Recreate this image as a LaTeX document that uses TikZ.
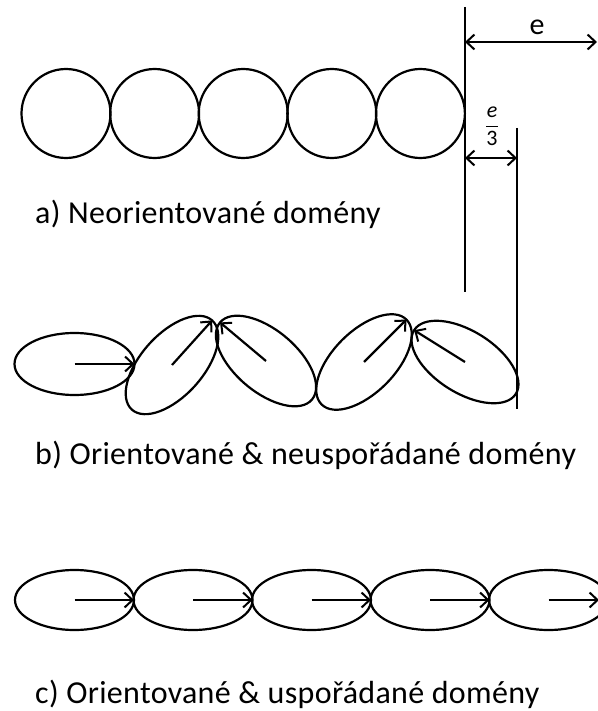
\documentclass[tikz,border=0pt]{standalone}
\usepackage{fontspec}
\setmainfont{Carlito}
\newfontfamily\capfont{Carlito}[LetterSpace=1]
\usetikzlibrary{positioning,shapes.geometric,arrows.meta}

\tikzset{
  grain/.style={draw, ellipse, line width=2.2pt, minimum width=120pt, minimum height=62pt, inner sep=0pt, outer sep=0pt},
  roundgrain/.style={draw, circle, line width=2.2pt, minimum size=89pt, inner sep=0pt, outer sep=0pt},
  spin/.style={-{Straight Barb[length=8pt,width=15pt,line width=2pt]}, line width=2.2pt},
  dimline/.style={{Straight Barb[length=8pt,width=15pt,line width=2pt]}-{Straight Barb[length=8pt,width=15pt,line width=2pt]}, line width=2.4pt},
  guide/.style={line width=2.6pt},
  captxt/.style={anchor=base west, inner sep=0pt, font=\capfont\fontsize{32}{36}\selectfont}
}

\begin{document}
\begin{tikzpicture}[x=1pt, y=-1pt]
\useasboundingbox (0,0) rectangle (597,711);

% a) round domains
\foreach \i in {1,...,5}
  \node[roundgrain] (a\i) at ({66+88.6*(\i-1)},113.5) {};

% guide lines and widths
\coordinate (g1top) at (465,7);
\coordinate (g1bot) at (465,292);
\coordinate (g2top) at (517,128);
\coordinate (g2bot) at (517,409);
\draw[guide] (g1top) -- (g1bot);
\draw[guide] (g2top) -- (g2bot);

\coordinate (eleft) at (465,42);
\coordinate (eright) at (597,42);
\draw[dimline] (eleft) -- (eright);
\node[font=\fontsize{30}{32}\selectfont] (elbl) at (537,27) {e};

\coordinate (tleft) at (465,158);
\coordinate (tright) at (517,158);
\draw[dimline] (tleft) -- (tright);
\node[font=\fontsize{22}{24}\selectfont, inner sep=0pt] (tlbl) at (492,126)
  {$\displaystyle\frac{\textit{e}}{\mbox{3}}$};

\node[captxt] (capa) at (35,223) {a) Neorientované domény};

% b) oriented, disordered
\node[grain] (b1) at (74.5,364) {};
\node[grain, rotate=48] (b2) at (172,365) {};
\node[grain, rotate=-40] (b3) at (266,361) {};
\node[grain, rotate=45] (b4) at (364,362) {};
\node[grain, rotate=-32] (b5) at (465,362) {};

\draw[spin] (b1.center) -- (b1.east);
\draw[spin] (b2.center) -- (b2.east);
\draw[spin] (b3.center) -- (b3.west);
\draw[spin] (b4.center) -- (b4.east);
\draw[spin] (b5.center) -- (b5.west);

\node[captxt] (capb) at (35,464) {b) Orientované \& neuspořádané domény};

% c) oriented, ordered
\foreach \i in {1,...,5}
  \node[grain, minimum width=119pt, minimum height=60pt] (c\i) at ({74.5+118.5*(\i-1)},600) {};
\foreach \i in {1,...,4}
  \draw[spin] (c\i.center) -- (c\i.east);
\coordinate (c5tip) at (599,600);
\draw[spin] (c5.center) -- (c5tip);

\node[captxt] (capc) at (35,703) {c) Orientované \& uspořádané domény};

\end{tikzpicture}
\end{document}
